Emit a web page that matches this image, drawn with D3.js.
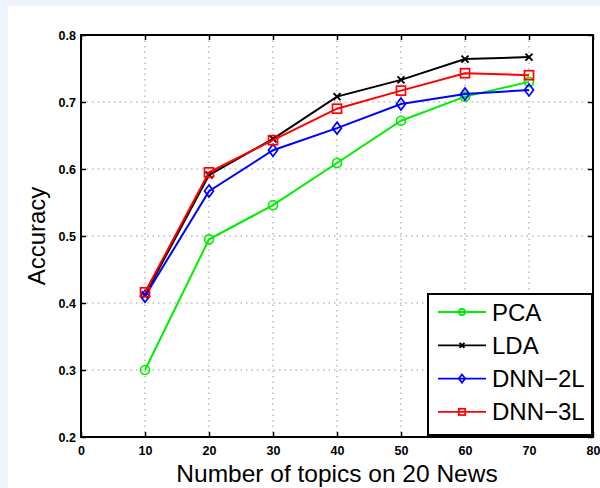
<!DOCTYPE html>
<html>
<head>
<meta charset="utf-8">
<script src="https://cdn.jsdelivr.net/npm/d3@7"></script>
<style>
  body { margin: 0; background: #fff; }
  svg { display: block; font-family: "Liberation Sans", Arial, sans-serif; }
</style>
</head>
<body>
<div id="chart"></div>
<script>
var svgWidth = 600;
var svgHeight = 488;

var margin = { top: 35, right: 7, bottom: 51, left: 81 };
var chartWidth = svgWidth - margin.left - margin.right;
var chartHeight = svgHeight - margin.top - margin.bottom;

// data
var topics = [10, 20, 30, 40, 50, 60, 70];
var pca    = [0.300, 0.495, 0.546, 0.609, 0.672, 0.708, 0.730];
var lda    = [0.412, 0.591, 0.645, 0.708, 0.733, 0.764, 0.767];
var dnn2   = [0.410, 0.567, 0.628, 0.661, 0.697, 0.712, 0.718];
var dnn3   = [0.416, 0.595, 0.643, 0.690, 0.717, 0.743, 0.740];
var xTicks = [0, 10, 20, 30, 40, 50, 60, 70, 80];
var yTicks = [0.2, 0.3, 0.4, 0.5, 0.6, 0.7, 0.8];

var series = [
  { name: "PCA", values: pca, color: "#00ee00", marker: "circle" },
  { name: "LDA", values: lda, color: "#000000", marker: "x" },
  { name: "DNN\u22122L", values: dnn2, color: "#0000ff", marker: "diamond" },
  { name: "DNN\u22123L", values: dnn3, color: "#ff0000", marker: "square" }
];

var svg = d3.select("#chart")
  .append("svg")
  .attr("width", svgWidth)
  .attr("height", svgHeight);

// light blue frame round the figure (top and left)
svg.append("rect").attr("width", svgWidth).attr("height", svgHeight).attr("fill", "#eef5fc");
svg.append("rect").attr("x", 8).attr("y", 6).attr("width", svgWidth - 8).attr("height", svgHeight - 6).attr("fill", "#fff");

var chartGroup = svg.append("g")
  .attr("transform", `translate(${margin.left}, ${margin.top})`);

var x = d3.scaleLinear().domain([0, 80]).range([0, chartWidth]);
var y = d3.scaleLinear().domain([0.2, 0.8]).range([chartHeight, 0]);

// dotted grid
chartGroup.selectAll(".gx")
  .data(xTicks.slice(1, -1))
  .enter().append("line")
  .attr("x1", d => x(d)).attr("x2", d => x(d))
  .attr("y1", 0).attr("y2", chartHeight)
  .attr("stroke", "#999").attr("stroke-width", 1)
  .attr("stroke-dasharray", "1.5,4");

chartGroup.selectAll(".gy")
  .data(yTicks.slice(1, -1))
  .enter().append("line")
  .attr("x1", 0).attr("x2", chartWidth)
  .attr("y1", d => y(d)).attr("y2", d => y(d))
  .attr("stroke", "#999").attr("stroke-width", 1)
  .attr("stroke-dasharray", "1.5,4");

// axes, ticks pointing inward, both sides like matlab box on
var bottomAxis = d3.axisBottom(x).tickValues(xTicks).tickSize(-5).tickPadding(9).tickFormat(d3.format("d"));
var topAxis = d3.axisTop(x).tickValues(xTicks).tickSize(-5).tickFormat("");
var leftAxis = d3.axisLeft(y).tickValues(yTicks).tickSize(-5).tickPadding(5).tickFormat(d3.format(".1f"));
var rightAxis = d3.axisRight(y).tickValues(yTicks).tickSize(-5).tickFormat("");

function styleAxis(g) {
  g.select(".domain").remove();
  g.selectAll(".tick line").attr("stroke", "#000").attr("stroke-width", 1.5);
  g.selectAll("text").attr("fill", "#000").style("font-size", "12.5px").style("font-weight", "bold");
}

chartGroup.append("g").attr("transform", `translate(0, ${chartHeight})`).call(bottomAxis).call(styleAxis);
chartGroup.append("g").call(topAxis).call(styleAxis);
chartGroup.append("g").call(leftAxis).call(styleAxis);
chartGroup.append("g").attr("transform", `translate(${chartWidth}, 0)`).call(rightAxis).call(styleAxis);

chartGroup.append("rect")
  .attr("width", chartWidth).attr("height", chartHeight)
  .attr("fill", "none").attr("stroke", "#000").attr("stroke-width", 2);

// markers
function drawMarker(g, type, color, cx, cy, s) {
  s = s || 1;
  if (type === "circle") {
    g.append("circle").attr("cx", cx).attr("cy", cy).attr("r", 4.5 * s)
      .attr("fill", "none").attr("stroke", color).attr("stroke-width", 1.7);
  } else if (type === "x") {
    var h = 3.5 * s;
    g.append("path").attr("d", `M${cx - h},${cy - h}L${cx + h},${cy + h}M${cx - h},${cy + h}L${cx + h},${cy - h}`)
      .attr("stroke", color).attr("stroke-width", 2);
  } else if (type === "diamond") {
    g.append("path").attr("d", `M${cx},${cy - 6 * s}L${cx + 4.5 * s},${cy}L${cx},${cy + 6 * s}L${cx - 4.5 * s},${cy}Z`)
      .attr("fill", "none").attr("stroke", color).attr("stroke-width", 1.7);
  } else if (type === "square") {
    g.append("rect").attr("x", cx - 4.5 * s).attr("y", cy - 4.5 * s).attr("width", 9 * s).attr("height", 9 * s)
      .attr("fill", "none").attr("stroke", color).attr("stroke-width", 1.7);
  }
}

var line = d3.line()
  .x((d, i) => x(topics[i]))
  .y(d => y(d));

series.forEach(function(s) {
  var g = chartGroup.append("g");
  g.append("path")
    .datum(s.values)
    .attr("d", line)
    .attr("fill", "none")
    .attr("stroke", s.color)
    .attr("stroke-width", 2);
  s.values.forEach(function(v, i) {
    drawMarker(g, s.marker, s.color, x(topics[i]), y(v));
  });
});

// legend
var legend = svg.append("g").attr("transform", "translate(428, 294)");
legend.append("rect")
  .attr("width", 164).attr("height", 141)
  .attr("fill", "#fff").attr("stroke", "#000").attr("stroke-width", 2);

series.forEach(function(s, i) {
  var ly = 18 + i * 33.3;
  legend.append("line")
    .attr("x1", 10).attr("x2", 58).attr("y1", ly).attr("y2", ly)
    .attr("stroke", s.color).attr("stroke-width", 1.8);
  drawMarker(legend, s.marker, s.color, 34, ly, 0.7);
  legend.append("text")
    .attr("x", 64).attr("y", ly + 8.5)
    .style("font-size", "24px")
    .attr("fill", "#000")
    .text(s.name);
});

// axis titles
svg.append("text")
  .attr("x", margin.left + chartWidth / 2)
  .attr("y", 482)
  .attr("text-anchor", "middle")
  .style("font-size", "24.5px")
  .text("Number of topics on 20 News");

svg.append("text")
  .attr("transform", `translate(45, ${margin.top + chartHeight / 2}) rotate(-90)`)
  .attr("text-anchor", "middle")
  .style("font-size", "24px")
  .text("Accuracy");
</script>
</body>
</html>
